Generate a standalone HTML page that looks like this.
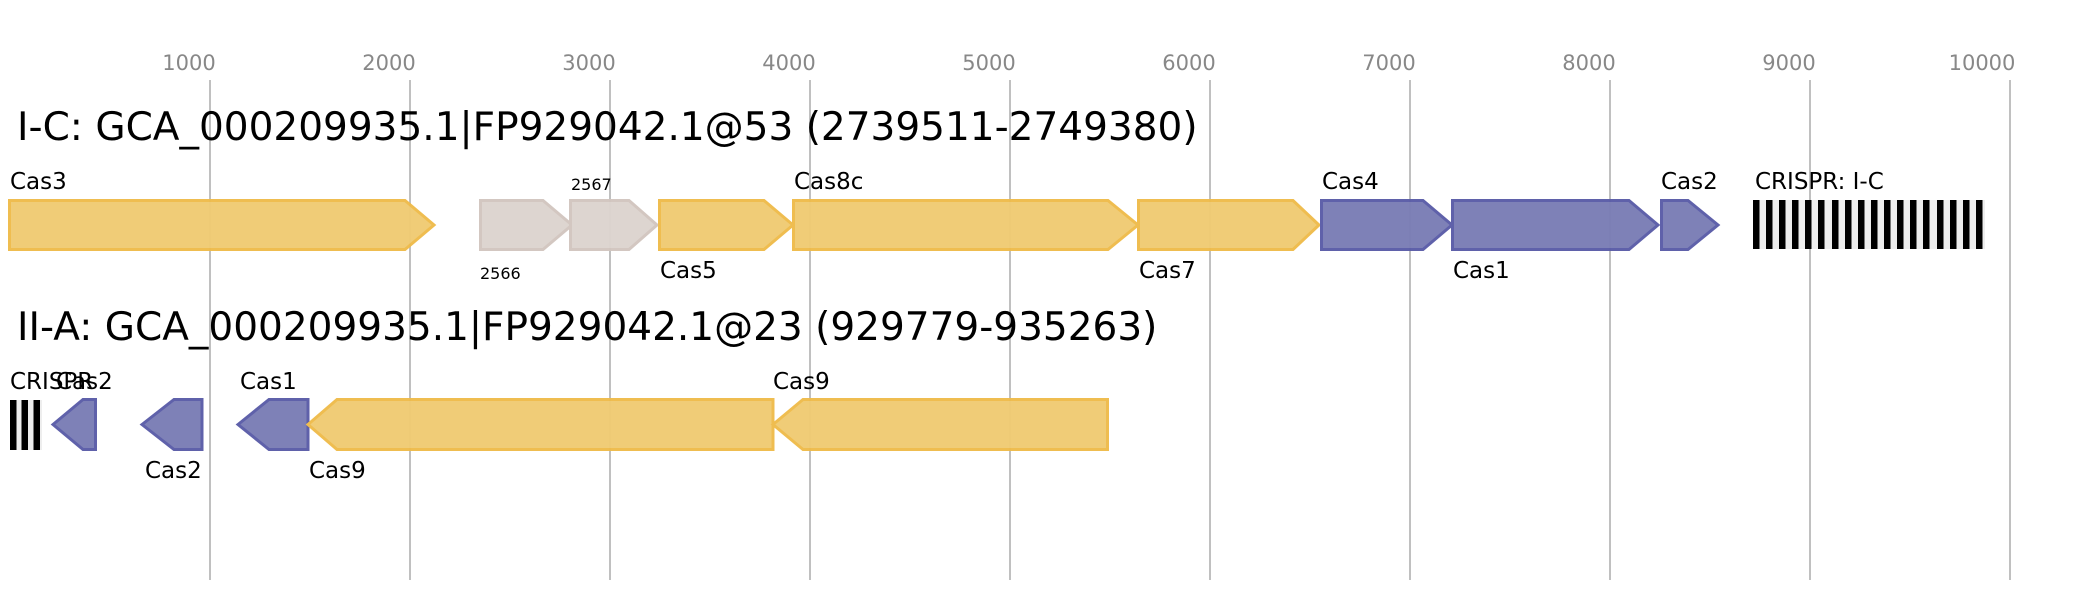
<!DOCTYPE html>
<html><head><meta charset="utf-8"><style>
html,body{margin:0;padding:0;background:#fff;}
svg{display:block;font-family:"DejaVu Sans","Liberation Sans",sans-serif;}
.ax{font-size:21px;fill:#888;text-anchor:middle}
.t{font-size:39px;fill:#000}
.l{font-size:23px;fill:#000}
.s{font-size:16px;fill:#000}
.y{fill:#f0cb73;stroke:#efbb4b;stroke-width:3}
.b{fill:#7a7db5;stroke:#5a5ca8;stroke-width:3}
.g{fill:#dcd4cf;stroke:#d2c6bf;stroke-width:3}
</style></head><body>
<svg width="2074" height="600" viewBox="0 0 2074 600">
<g stroke="#c0c0c0" stroke-width="2">
<line x1="210" y1="80" x2="210" y2="580"/><line x1="410" y1="80" x2="410" y2="580"/><line x1="610" y1="80" x2="610" y2="580"/><line x1="810" y1="80" x2="810" y2="580"/><line x1="1010" y1="80" x2="1010" y2="580"/><line x1="1210" y1="80" x2="1210" y2="580"/><line x1="1410" y1="80" x2="1410" y2="580"/><line x1="1610" y1="80" x2="1610" y2="580"/><line x1="1810" y1="80" x2="1810" y2="580"/><line x1="2010" y1="80" x2="2010" y2="580"/>
</g>
<g class="ax">
<text x="189" y="70">1000</text><text x="389" y="70">2000</text><text x="589" y="70">3000</text><text x="789" y="70">4000</text><text x="989" y="70">5000</text><text x="1189" y="70">6000</text><text x="1389" y="70">7000</text><text x="1589" y="70">8000</text><text x="1789" y="70">9000</text><text x="1982" y="70">10000</text>
</g>
<text class="t" x="17" y="140">I-C: GCA_000209935.1|FP929042.1@53 (2739511-2749380)</text>
<text class="t" x="17" y="340">II-A: GCA_000209935.1|FP929042.1@23 (929779-935263)</text>

<g opacity="0.97">
<polygon class="y" points="9.5,200.5 405,200.5 434,225 405,249.5 9.5,249.5"/>
<polygon class="g" points="480.5,200.5 543,200.5 572,225 543,249.5 480.5,249.5"/>
<polygon class="g" points="570.5,200.5 629,200.5 657,225 629,249.5 570.5,249.5"/>
<polygon class="y" points="659.5,200.5 764,200.5 793,225 764,249.5 659.5,249.5"/>
<polygon class="y" points="793.5,200.5 1108,200.5 1138,225 1108,249.5 793.5,249.5"/>
<polygon class="y" points="1138.5,200.5 1293,200.5 1319,225 1293,249.5 1138.5,249.5"/>
<polygon class="b" points="1321.5,200.5 1423,200.5 1452,225 1423,249.5 1321.5,249.5"/>
<polygon class="b" points="1452.5,200.5 1629,200.5 1658,225 1629,249.5 1452.5,249.5"/>
<polygon class="b" points="1661.5,200.5 1688,200.5 1718,225 1688,249.5 1661.5,249.5"/>

<polygon class="b" points="53,424.5 83,399.5 95.5,399.5 95.5,449.5 83,449.5"/>
<polygon class="b" points="142,424.5 174,399.5 202,399.5 202,449.5 174,449.5"/>
<polygon class="b" points="238,424.5 269,399.5 308,399.5 308,449.5 269,449.5"/>
<polygon class="y" points="308,424.5 337,399.5 773,399.5 773,449.5 337,449.5"/>
<polygon class="y" points="773,424.5 803,399.5 1107.5,399.5 1107.5,449.5 803,449.5"/>
</g>

<rect x="1753" y="200" width="232" height="49" fill="#eee"/>
<g fill="#000">
<rect x="1753" y="200" width="6.5" height="49"/><rect x="1766" y="200" width="6.5" height="49"/><rect x="1779" y="200" width="6.5" height="49"/><rect x="1792" y="200" width="6.5" height="49"/><rect x="1805" y="200" width="6.5" height="49"/><rect x="1818" y="200" width="6.5" height="49"/><rect x="1832" y="200" width="6.5" height="49"/><rect x="1845" y="200" width="6.5" height="49"/><rect x="1858" y="200" width="6.5" height="49"/><rect x="1871" y="200" width="6.5" height="49"/><rect x="1884" y="200" width="6.5" height="49"/><rect x="1897" y="200" width="6.5" height="49"/><rect x="1910" y="200" width="6.5" height="49"/><rect x="1923" y="200" width="6.5" height="49"/><rect x="1937" y="200" width="6.5" height="49"/><rect x="1950" y="200" width="6.5" height="49"/><rect x="1963" y="200" width="6.5" height="49"/><rect x="1976" y="200" width="6.5" height="49"/>
</g>
<rect x="10" y="400" width="32" height="50" fill="#eee"/>
<g fill="#000"><rect x="10" y="400" width="6.5" height="50"/><rect x="21.5" y="400" width="6.5" height="50"/><rect x="33.5" y="400" width="6.5" height="50"/></g>

<g class="l">
<text x="10" y="189">Cas3</text>
<text x="794" y="189">Cas8c</text>
<text x="660" y="278">Cas5</text>
<text x="1139" y="278">Cas7</text>
<text x="1322" y="189">Cas4</text>
<text x="1453" y="278">Cas1</text>
<text x="1661" y="189">Cas2</text>
<text x="1755" y="189">CRISPR: I-C</text>
<text x="10" y="389">CRISPR</text>
<text x="56" y="389">Cas2</text>
<text x="240" y="389">Cas1</text>
<text x="145" y="478">Cas2</text>
<text x="309" y="478">Cas9</text>
<text x="773" y="389">Cas9</text>
</g>
<text class="s" x="571" y="190">2567</text>
<text class="s" x="480" y="279">2566</text>
</svg>
</body></html>
